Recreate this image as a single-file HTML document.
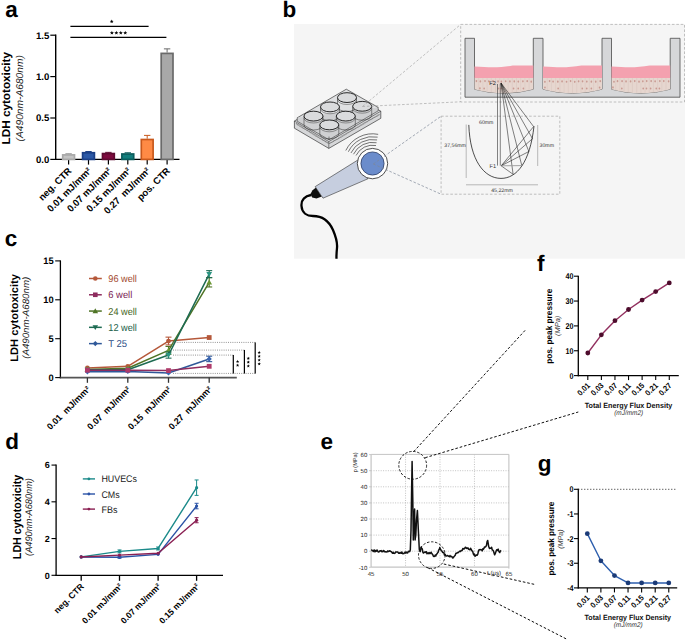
<!DOCTYPE html>
<html><head><meta charset="utf-8"><title>Figure</title>
<style>html,body{margin:0;padding:0;background:#fff;overflow:hidden;}svg{display:block;}text{font-family:'Liberation Sans', sans-serif;text-rendering:geometricPrecision;}</style></head>
<body><svg width="685" height="641" viewBox="0 0 685 641">
<rect width="685" height="641" fill="#fff"/>
<text x="5.2" y="17.3" font-size="22.5" font-weight="bold" font-style="normal" text-anchor="start" fill="#000">a</text>
<line x1="55.7" y1="34.6" x2="55.7" y2="160" stroke="#000" stroke-width="1.4" stroke-linecap="butt"/>
<line x1="55" y1="159.4" x2="179.5" y2="159.4" stroke="#000" stroke-width="1.4" stroke-linecap="butt"/>
<line x1="50.3" y1="159.4" x2="55.7" y2="159.4" stroke="#000" stroke-width="1.2" stroke-linecap="butt"/>
<text x="49.3" y="162.8" font-size="9.6" font-weight="bold" font-style="normal" text-anchor="end" fill="#000">0.0</text>
<line x1="50.3" y1="118" x2="55.7" y2="118" stroke="#000" stroke-width="1.2" stroke-linecap="butt"/>
<text x="49.3" y="121.4" font-size="9.6" font-weight="bold" font-style="normal" text-anchor="end" fill="#000">0.5</text>
<line x1="50.3" y1="76.6" x2="55.7" y2="76.6" stroke="#000" stroke-width="1.2" stroke-linecap="butt"/>
<text x="49.3" y="80" font-size="9.6" font-weight="bold" font-style="normal" text-anchor="end" fill="#000">1.0</text>
<line x1="50.3" y1="35.2" x2="55.7" y2="35.2" stroke="#000" stroke-width="1.2" stroke-linecap="butt"/>
<text x="49.3" y="38.6" font-size="9.6" font-weight="bold" font-style="normal" text-anchor="end" fill="#000">1.5</text>
<line x1="68.6" y1="159.4" x2="68.6" y2="164.6" stroke="#000" stroke-width="1.2" stroke-linecap="butt"/>
<line x1="88.5" y1="159.4" x2="88.5" y2="164.6" stroke="#000" stroke-width="1.2" stroke-linecap="butt"/>
<line x1="108.4" y1="159.4" x2="108.4" y2="164.6" stroke="#000" stroke-width="1.2" stroke-linecap="butt"/>
<line x1="127.8" y1="159.4" x2="127.8" y2="164.6" stroke="#000" stroke-width="1.2" stroke-linecap="butt"/>
<line x1="147.2" y1="159.4" x2="147.2" y2="164.6" stroke="#000" stroke-width="1.2" stroke-linecap="butt"/>
<line x1="167.1" y1="159.4" x2="167.1" y2="164.6" stroke="#000" stroke-width="1.2" stroke-linecap="butt"/>
<line x1="68.6" y1="154.1" x2="68.6" y2="153.6" stroke="#a8a8a8" stroke-width="1" stroke-linecap="butt"/>
<line x1="65.4" y1="153.6" x2="71.8" y2="153.6" stroke="#a8a8a8" stroke-width="1" stroke-linecap="butt"/>
<rect x="62.7" y="154.9" width="11.8" height="4.5" fill="#c4c4c4" stroke="#a8a8a8" stroke-width="1.7"/>
<line x1="88.5" y1="151.95" x2="88.5" y2="151.53" stroke="#1b3f86" stroke-width="1" stroke-linecap="butt"/>
<line x1="85.3" y1="151.53" x2="91.7" y2="151.53" stroke="#1b3f86" stroke-width="1" stroke-linecap="butt"/>
<rect x="82.6" y="152.75" width="11.8" height="6.65" fill="#2b58a6" stroke="#1b3f86" stroke-width="1.7"/>
<line x1="108.4" y1="152.78" x2="108.4" y2="152.36" stroke="#5e0a30" stroke-width="1" stroke-linecap="butt"/>
<line x1="105.2" y1="152.36" x2="111.6" y2="152.36" stroke="#5e0a30" stroke-width="1" stroke-linecap="butt"/>
<rect x="102.5" y="153.58" width="11.8" height="5.82" fill="#7d0a3e" stroke="#5e0a30" stroke-width="1.7"/>
<line x1="127.8" y1="153.19" x2="127.8" y2="152.78" stroke="#0b5c5c" stroke-width="1" stroke-linecap="butt"/>
<line x1="124.6" y1="152.78" x2="131" y2="152.78" stroke="#0b5c5c" stroke-width="1" stroke-linecap="butt"/>
<rect x="121.9" y="153.99" width="11.8" height="5.41" fill="#127e7c" stroke="#0b5c5c" stroke-width="1.7"/>
<line x1="147.2" y1="138.7" x2="147.2" y2="135.39" stroke="#c8581c" stroke-width="1" stroke-linecap="butt"/>
<line x1="144" y1="135.39" x2="150.4" y2="135.39" stroke="#c8581c" stroke-width="1" stroke-linecap="butt"/>
<rect x="141.3" y="139.5" width="11.8" height="19.9" fill="#ff8a45" stroke="#c8581c" stroke-width="1.7"/>
<line x1="167.1" y1="52.59" x2="167.1" y2="48.86" stroke="#6a6a6a" stroke-width="1" stroke-linecap="butt"/>
<line x1="163.9" y1="48.86" x2="170.3" y2="48.86" stroke="#6a6a6a" stroke-width="1" stroke-linecap="butt"/>
<rect x="161.2" y="53.39" width="11.8" height="106.01" fill="#a8a8a8" stroke="#6a6a6a" stroke-width="1.7"/>
<line x1="70.4" y1="26.3" x2="148.6" y2="26.3" stroke="#000" stroke-width="1.2" stroke-linecap="butt"/>
<line x1="70.4" y1="37.3" x2="166.4" y2="37.3" stroke="#000" stroke-width="1.2" stroke-linecap="butt"/>
<polygon points="111.7,19.5 112.23,20.77 113.6,20.88 112.56,21.78 112.88,23.12 111.7,22.4 110.52,23.12 110.84,21.78 109.8,20.88 111.17,20.77" fill="#000"/>
<polygon points="111.9,30.8 112.46,32.14 113.9,32.25 112.8,33.19 113.13,34.6 111.9,33.84 110.67,34.6 111,33.19 109.9,32.25 111.34,32.14" fill="#000"/>
<polygon points="116.35,30.8 116.91,32.14 118.35,32.25 117.25,33.19 117.58,34.6 116.35,33.84 115.12,34.6 115.45,33.19 114.35,32.25 115.79,32.14" fill="#000"/>
<polygon points="120.8,30.8 121.36,32.14 122.8,32.25 121.7,33.19 122.03,34.6 120.8,33.84 119.57,34.6 119.9,33.19 118.8,32.25 120.24,32.14" fill="#000"/>
<polygon points="125.25,30.8 125.81,32.14 127.25,32.25 126.15,33.19 126.48,34.6 125.25,33.84 124.02,34.6 124.35,33.19 123.25,32.25 124.69,32.14" fill="#000"/>
<text x="10.2" y="98.2" font-size="11.5" font-weight="bold" font-style="normal" text-anchor="middle" fill="#000" transform="rotate(-90 10.2 98.2)" textLength="92.5" lengthAdjust="spacingAndGlyphs">LDH cytotoxicity</text>
<text x="22.6" y="98.3" font-size="9.9" font-weight="normal" font-style="italic" text-anchor="middle" fill="#222" transform="rotate(-90 22.6 98.3)" textLength="86.3" lengthAdjust="spacingAndGlyphs">(A490nm-A680nm)</text>
<text x="72.2" y="171.5" font-size="9.6" font-weight="bold" font-style="normal" text-anchor="end" fill="#000" transform="rotate(-45 72.2 171.5)">neg. CTR</text>
<text x="92.1" y="171.5" font-size="9.6" font-weight="bold" font-style="normal" text-anchor="end" fill="#000" transform="rotate(-45 92.1 171.5)">0.01 mJ/mm²</text>
<text x="112" y="171.5" font-size="9.6" font-weight="bold" font-style="normal" text-anchor="end" fill="#000" transform="rotate(-45 112 171.5)">0.07 mJ/mm²</text>
<text x="131.4" y="171.5" font-size="9.6" font-weight="bold" font-style="normal" text-anchor="end" fill="#000" transform="rotate(-45 131.4 171.5)">0.15 mJ/mm²</text>
<text x="150.8" y="171.5" font-size="9.6" font-weight="bold" font-style="normal" text-anchor="end" fill="#000" transform="rotate(-45 150.8 171.5)">0.27&#160; mJ/mm²</text>
<text x="170.7" y="171.5" font-size="9.6" font-weight="bold" font-style="normal" text-anchor="end" fill="#000" transform="rotate(-45 170.7 171.5)">pos. CTR</text>
<rect x="294" y="24" width="391" height="234.7" fill="#f5f5f5" stroke="none" stroke-width="1"/>
<rect x="460.7" y="24.4" width="223.8" height="77.6" fill="none" stroke="#a0a0a0" stroke-width="0.65" stroke-dasharray="2.6,1.8"/>
<rect x="441.1" y="116.2" width="118.7" height="78" fill="none" stroke="#a0a0a0" stroke-width="0.65" stroke-dasharray="2.6,1.8"/>
<path d="M465,38.3 L474.5,38.3 L474.5,89.2 Q503.9,97.2 533.3,89.2 L533.3,38.3 L543,38.3 L543,89.2 Q572.5,97.2 602,89.2 L602,38.3 L611.5,38.3 L611.5,89.2 Q640.85,97.2 670.2,89.2 L670.2,38.3 L680,38.3 L680,97.2 L465,97.2 Z" fill="#d6d7d9" stroke="#4a4a4a" stroke-width="0.8" />
<path d="M474.5,77.8 L474.5,89.2 Q503.9,97.2 533.3,89.2 L533.3,77.8 Z" fill="#e6d6cf" stroke="none" stroke-width="1" />
<line x1="478.7" y1="78" x2="478.7" y2="89.96" stroke="#d6c3bc" stroke-width="0.45" stroke-linecap="butt"/>
<line x1="482.9" y1="78" x2="482.9" y2="90.86" stroke="#d6c3bc" stroke-width="0.45" stroke-linecap="butt"/>
<line x1="487.1" y1="78" x2="487.1" y2="91.59" stroke="#d6c3bc" stroke-width="0.45" stroke-linecap="butt"/>
<line x1="491.3" y1="78" x2="491.3" y2="92.17" stroke="#d6c3bc" stroke-width="0.45" stroke-linecap="butt"/>
<line x1="495.5" y1="78" x2="495.5" y2="92.57" stroke="#d6c3bc" stroke-width="0.45" stroke-linecap="butt"/>
<line x1="499.7" y1="78" x2="499.7" y2="92.82" stroke="#d6c3bc" stroke-width="0.45" stroke-linecap="butt"/>
<line x1="503.9" y1="78" x2="503.9" y2="92.9" stroke="#d6c3bc" stroke-width="0.45" stroke-linecap="butt"/>
<line x1="508.1" y1="78" x2="508.1" y2="92.82" stroke="#d6c3bc" stroke-width="0.45" stroke-linecap="butt"/>
<line x1="512.3" y1="78" x2="512.3" y2="92.57" stroke="#d6c3bc" stroke-width="0.45" stroke-linecap="butt"/>
<line x1="516.5" y1="78" x2="516.5" y2="92.17" stroke="#d6c3bc" stroke-width="0.45" stroke-linecap="butt"/>
<line x1="520.7" y1="78" x2="520.7" y2="91.59" stroke="#d6c3bc" stroke-width="0.45" stroke-linecap="butt"/>
<line x1="524.9" y1="78" x2="524.9" y2="90.86" stroke="#d6c3bc" stroke-width="0.45" stroke-linecap="butt"/>
<line x1="529.1" y1="78" x2="529.1" y2="89.96" stroke="#d6c3bc" stroke-width="0.45" stroke-linecap="butt"/>
<ellipse cx="476.42" cy="81.12" rx="0.85" ry="1.1" fill="#c99a92"/>
<ellipse cx="480.37" cy="81.43" rx="0.85" ry="1.1" fill="#c99a92"/>
<ellipse cx="479.92" cy="88.34" rx="0.85" ry="1.1" fill="#c99a92"/>
<ellipse cx="485.01" cy="81.03" rx="0.85" ry="1.1" fill="#c99a92"/>
<ellipse cx="484.14" cy="88.5" rx="0.85" ry="1.1" fill="#c99a92"/>
<ellipse cx="488.79" cy="81.34" rx="0.85" ry="1.1" fill="#c99a92"/>
<ellipse cx="493.02" cy="81.18" rx="0.85" ry="1.1" fill="#c99a92"/>
<ellipse cx="498.05" cy="81.46" rx="0.85" ry="1.1" fill="#c99a92"/>
<ellipse cx="498.55" cy="88.5" rx="0.85" ry="1.1" fill="#c99a92"/>
<ellipse cx="501.35" cy="81.69" rx="0.85" ry="1.1" fill="#c99a92"/>
<ellipse cx="501.09" cy="88.5" rx="0.85" ry="1.1" fill="#c99a92"/>
<ellipse cx="505.62" cy="81.25" rx="0.85" ry="1.1" fill="#c99a92"/>
<ellipse cx="509.88" cy="81.47" rx="0.85" ry="1.1" fill="#c99a92"/>
<ellipse cx="514.27" cy="81.44" rx="0.85" ry="1.1" fill="#c99a92"/>
<ellipse cx="513.52" cy="88.5" rx="0.85" ry="1.1" fill="#c99a92"/>
<ellipse cx="518.31" cy="81.54" rx="0.85" ry="1.1" fill="#c99a92"/>
<ellipse cx="518.23" cy="88.5" rx="0.85" ry="1.1" fill="#c99a92"/>
<ellipse cx="522.89" cy="81.36" rx="0.85" ry="1.1" fill="#c99a92"/>
<ellipse cx="523.39" cy="88.5" rx="0.85" ry="1.1" fill="#c99a92"/>
<ellipse cx="527.2" cy="81.2" rx="0.85" ry="1.1" fill="#c99a92"/>
<ellipse cx="531.23" cy="81.7" rx="0.85" ry="1.1" fill="#c99a92"/>
<path d="M474.5,78 L474.5,66.6 C492.14,67.8 500.96,67.6 512.72,65.6 C521.54,65.2 527.42,65.6 533.3,65.6 L533.3,78 Z" fill="#f4a1af" stroke="none" stroke-width="1" />
<path d="M543,77.8 L543,89.2 Q572.5,97.2 602,89.2 L602,77.8 Z" fill="#e6d6cf" stroke="none" stroke-width="1" />
<line x1="547.21" y1="78" x2="547.21" y2="89.96" stroke="#d6c3bc" stroke-width="0.45" stroke-linecap="butt"/>
<line x1="551.43" y1="78" x2="551.43" y2="90.86" stroke="#d6c3bc" stroke-width="0.45" stroke-linecap="butt"/>
<line x1="555.64" y1="78" x2="555.64" y2="91.59" stroke="#d6c3bc" stroke-width="0.45" stroke-linecap="butt"/>
<line x1="559.86" y1="78" x2="559.86" y2="92.17" stroke="#d6c3bc" stroke-width="0.45" stroke-linecap="butt"/>
<line x1="564.07" y1="78" x2="564.07" y2="92.57" stroke="#d6c3bc" stroke-width="0.45" stroke-linecap="butt"/>
<line x1="568.29" y1="78" x2="568.29" y2="92.82" stroke="#d6c3bc" stroke-width="0.45" stroke-linecap="butt"/>
<line x1="572.5" y1="78" x2="572.5" y2="92.9" stroke="#d6c3bc" stroke-width="0.45" stroke-linecap="butt"/>
<line x1="576.71" y1="78" x2="576.71" y2="92.82" stroke="#d6c3bc" stroke-width="0.45" stroke-linecap="butt"/>
<line x1="580.93" y1="78" x2="580.93" y2="92.57" stroke="#d6c3bc" stroke-width="0.45" stroke-linecap="butt"/>
<line x1="585.14" y1="78" x2="585.14" y2="92.17" stroke="#d6c3bc" stroke-width="0.45" stroke-linecap="butt"/>
<line x1="589.36" y1="78" x2="589.36" y2="91.59" stroke="#d6c3bc" stroke-width="0.45" stroke-linecap="butt"/>
<line x1="593.57" y1="78" x2="593.57" y2="90.86" stroke="#d6c3bc" stroke-width="0.45" stroke-linecap="butt"/>
<line x1="597.79" y1="78" x2="597.79" y2="89.96" stroke="#d6c3bc" stroke-width="0.45" stroke-linecap="butt"/>
<ellipse cx="544.9" cy="81.78" rx="0.85" ry="1.1" fill="#c99a92"/>
<ellipse cx="544.94" cy="87.51" rx="0.85" ry="1.1" fill="#c99a92"/>
<ellipse cx="549.58" cy="81.12" rx="0.85" ry="1.1" fill="#c99a92"/>
<ellipse cx="553.07" cy="81.53" rx="0.85" ry="1.1" fill="#c99a92"/>
<ellipse cx="557.82" cy="81.7" rx="0.85" ry="1.1" fill="#c99a92"/>
<ellipse cx="558.14" cy="88.5" rx="0.85" ry="1.1" fill="#c99a92"/>
<ellipse cx="562.06" cy="81.46" rx="0.85" ry="1.1" fill="#c99a92"/>
<ellipse cx="566.52" cy="81.76" rx="0.85" ry="1.1" fill="#c99a92"/>
<ellipse cx="570.56" cy="81.05" rx="0.85" ry="1.1" fill="#c99a92"/>
<ellipse cx="574.75" cy="81.79" rx="0.85" ry="1.1" fill="#c99a92"/>
<ellipse cx="578.61" cy="81.31" rx="0.85" ry="1.1" fill="#c99a92"/>
<ellipse cx="582.56" cy="81.37" rx="0.85" ry="1.1" fill="#c99a92"/>
<ellipse cx="582.27" cy="88.5" rx="0.85" ry="1.1" fill="#c99a92"/>
<ellipse cx="586.81" cy="81.61" rx="0.85" ry="1.1" fill="#c99a92"/>
<ellipse cx="586.75" cy="88.5" rx="0.85" ry="1.1" fill="#c99a92"/>
<ellipse cx="591.36" cy="81.7" rx="0.85" ry="1.1" fill="#c99a92"/>
<ellipse cx="591.36" cy="88.5" rx="0.85" ry="1.1" fill="#c99a92"/>
<ellipse cx="595.73" cy="81.71" rx="0.85" ry="1.1" fill="#c99a92"/>
<ellipse cx="600.26" cy="81.22" rx="0.85" ry="1.1" fill="#c99a92"/>
<ellipse cx="599.61" cy="87.62" rx="0.85" ry="1.1" fill="#c99a92"/>
<path d="M543,78 L543,66.6 C560.7,67.8 569.55,67.6 581.35,65.6 C590.2,65.2 596.1,65.6 602,65.6 L602,78 Z" fill="#f4a1af" stroke="none" stroke-width="1" />
<path d="M611.5,77.8 L611.5,89.2 Q640.85,97.2 670.2,89.2 L670.2,77.8 Z" fill="#e6d6cf" stroke="none" stroke-width="1" />
<line x1="615.69" y1="78" x2="615.69" y2="89.96" stroke="#d6c3bc" stroke-width="0.45" stroke-linecap="butt"/>
<line x1="619.89" y1="78" x2="619.89" y2="90.86" stroke="#d6c3bc" stroke-width="0.45" stroke-linecap="butt"/>
<line x1="624.08" y1="78" x2="624.08" y2="91.59" stroke="#d6c3bc" stroke-width="0.45" stroke-linecap="butt"/>
<line x1="628.27" y1="78" x2="628.27" y2="92.17" stroke="#d6c3bc" stroke-width="0.45" stroke-linecap="butt"/>
<line x1="632.46" y1="78" x2="632.46" y2="92.57" stroke="#d6c3bc" stroke-width="0.45" stroke-linecap="butt"/>
<line x1="636.66" y1="78" x2="636.66" y2="92.82" stroke="#d6c3bc" stroke-width="0.45" stroke-linecap="butt"/>
<line x1="640.85" y1="78" x2="640.85" y2="92.9" stroke="#d6c3bc" stroke-width="0.45" stroke-linecap="butt"/>
<line x1="645.04" y1="78" x2="645.04" y2="92.82" stroke="#d6c3bc" stroke-width="0.45" stroke-linecap="butt"/>
<line x1="649.24" y1="78" x2="649.24" y2="92.57" stroke="#d6c3bc" stroke-width="0.45" stroke-linecap="butt"/>
<line x1="653.43" y1="78" x2="653.43" y2="92.17" stroke="#d6c3bc" stroke-width="0.45" stroke-linecap="butt"/>
<line x1="657.62" y1="78" x2="657.62" y2="91.59" stroke="#d6c3bc" stroke-width="0.45" stroke-linecap="butt"/>
<line x1="661.81" y1="78" x2="661.81" y2="90.86" stroke="#d6c3bc" stroke-width="0.45" stroke-linecap="butt"/>
<line x1="666.01" y1="78" x2="666.01" y2="89.96" stroke="#d6c3bc" stroke-width="0.45" stroke-linecap="butt"/>
<ellipse cx="613.98" cy="81.77" rx="0.85" ry="1.1" fill="#c99a92"/>
<ellipse cx="612.95" cy="87.39" rx="0.85" ry="1.1" fill="#c99a92"/>
<ellipse cx="617.52" cy="81.19" rx="0.85" ry="1.1" fill="#c99a92"/>
<ellipse cx="622.07" cy="81.21" rx="0.85" ry="1.1" fill="#c99a92"/>
<ellipse cx="621.82" cy="88.5" rx="0.85" ry="1.1" fill="#c99a92"/>
<ellipse cx="626.04" cy="81.45" rx="0.85" ry="1.1" fill="#c99a92"/>
<ellipse cx="630.56" cy="81.41" rx="0.85" ry="1.1" fill="#c99a92"/>
<ellipse cx="634.74" cy="81.04" rx="0.85" ry="1.1" fill="#c99a92"/>
<ellipse cx="639.03" cy="81.7" rx="0.85" ry="1.1" fill="#c99a92"/>
<ellipse cx="642.84" cy="81.32" rx="0.85" ry="1.1" fill="#c99a92"/>
<ellipse cx="643.22" cy="88.5" rx="0.85" ry="1.1" fill="#c99a92"/>
<ellipse cx="646.7" cy="81.05" rx="0.85" ry="1.1" fill="#c99a92"/>
<ellipse cx="646.46" cy="88.5" rx="0.85" ry="1.1" fill="#c99a92"/>
<ellipse cx="651.17" cy="81.04" rx="0.85" ry="1.1" fill="#c99a92"/>
<ellipse cx="650.63" cy="88.5" rx="0.85" ry="1.1" fill="#c99a92"/>
<ellipse cx="655.13" cy="81.29" rx="0.85" ry="1.1" fill="#c99a92"/>
<ellipse cx="656.27" cy="88.5" rx="0.85" ry="1.1" fill="#c99a92"/>
<ellipse cx="659.83" cy="81.12" rx="0.85" ry="1.1" fill="#c99a92"/>
<ellipse cx="659.41" cy="88.5" rx="0.85" ry="1.1" fill="#c99a92"/>
<ellipse cx="663.77" cy="81.1" rx="0.85" ry="1.1" fill="#c99a92"/>
<ellipse cx="668.6" cy="81.37" rx="0.85" ry="1.1" fill="#c99a92"/>
<path d="M611.5,78 L611.5,66.6 C629.11,67.8 637.915,67.6 649.655,65.6 C658.46,65.2 664.33,65.6 670.2,65.6 L670.2,78 Z" fill="#f4a1af" stroke="none" stroke-width="1" />
<path d="M294.4,121 L346.3,91.5 L380.8,111.2 L380.8,118.3 L328.8,148.4 L294.4,128.2 Z" fill="#d6d7d9" stroke="#1c1c1c" stroke-width="0.6" />
<path d="M294.4,121 L328.8,141.6 L380.8,111.2" fill="none" stroke="#1c1c1c" stroke-width="0.5" />
<line x1="328.8" y1="141.6" x2="328.8" y2="148.4" stroke="#1c1c1c" stroke-width="0.5" stroke-linecap="butt"/>
<path d="M297.2,117.8 L346.3,89.2 L378.2,107.4 L329,136.6 Z" fill="#dfe0e2" stroke="#1c1c1c" stroke-width="0.6" />
<path d="M297.2,117.8 L297.2,121.2 L329,139.8 L378.2,110.8 L378.2,107.4" fill="#cfd0d2" stroke="#1c1c1c" stroke-width="0.5" />
<line x1="329" y1="136.6" x2="329" y2="139.8" stroke="#1c1c1c" stroke-width="0.5" stroke-linecap="butt"/>
<line x1="296" y1="123.6" x2="328.8" y2="143.6" stroke="#3a3a3a" stroke-width="1.2" stroke-dasharray="0.5,0.6"/>
<line x1="329.5" y1="143.6" x2="379.5" y2="114.4" stroke="#3a3a3a" stroke-width="1.2" stroke-dasharray="0.5,0.6"/>
<path d="M337.5,97.6 L337.5,106.6 A9.5,4.9 0 0 0 356.5,106.6 L356.5,97.6" fill="none" stroke="#333" stroke-width="0.55" />
<path d="M337.5,99.6 A9.5,4.9 0 0 0 356.5,99.6" fill="none" stroke="#444" stroke-width="0.5" />
<ellipse cx="347" cy="97.6" rx="9.5" ry="4.9" fill="#dadbdd" stroke="#151515" stroke-width="0.9"/>
<path d="M352.7,106.3 L352.7,115.3 A9.5,4.9 0 0 0 371.7,115.3 L371.7,106.3" fill="none" stroke="#333" stroke-width="0.55" />
<path d="M352.7,108.3 A9.5,4.9 0 0 0 371.7,108.3" fill="none" stroke="#444" stroke-width="0.5" />
<ellipse cx="362.2" cy="106.3" rx="9.5" ry="4.9" fill="#dadbdd" stroke="#151515" stroke-width="0.9"/>
<path d="M320.5,106.9 L320.5,115.9 A9.5,4.9 0 0 0 339.5,115.9 L339.5,106.9" fill="none" stroke="#333" stroke-width="0.55" />
<path d="M320.5,108.9 A9.5,4.9 0 0 0 339.5,108.9" fill="none" stroke="#444" stroke-width="0.5" />
<ellipse cx="330" cy="106.9" rx="9.5" ry="4.9" fill="#dadbdd" stroke="#151515" stroke-width="0.9"/>
<path d="M336.3,116.1 L336.3,125.1 A9.5,4.9 0 0 0 355.3,125.1 L355.3,116.1" fill="none" stroke="#333" stroke-width="0.55" />
<path d="M336.3,118.1 A9.5,4.9 0 0 0 355.3,118.1" fill="none" stroke="#444" stroke-width="0.5" />
<ellipse cx="345.8" cy="116.1" rx="9.5" ry="4.9" fill="#dadbdd" stroke="#151515" stroke-width="0.9"/>
<path d="M304.0,116.1 L304.0,125.1 A9.5,4.9 0 0 0 323.0,125.1 L323.0,116.1" fill="none" stroke="#333" stroke-width="0.55" />
<path d="M304.0,118.1 A9.5,4.9 0 0 0 323.0,118.1" fill="none" stroke="#444" stroke-width="0.5" />
<ellipse cx="313.5" cy="116.1" rx="9.5" ry="4.9" fill="#dadbdd" stroke="#151515" stroke-width="0.9"/>
<path d="M319.8,124.9 L319.8,133.9 A9.5,4.9 0 0 0 338.8,133.9 L338.8,124.9" fill="none" stroke="#333" stroke-width="0.55" />
<path d="M319.8,126.9 A9.5,4.9 0 0 0 338.8,126.9" fill="none" stroke="#444" stroke-width="0.5" />
<ellipse cx="329.3" cy="124.9" rx="9.5" ry="4.9" fill="#dadbdd" stroke="#151515" stroke-width="0.9"/>
<line x1="362.5" y1="106.5" x2="460.7" y2="24.4" stroke="#a0a0a0" stroke-width="0.65" stroke-linecap="butt" stroke-dasharray="2.6,1.8"/>
<line x1="362.5" y1="106.5" x2="460.7" y2="101.8" stroke="#a0a0a0" stroke-width="0.65" stroke-linecap="butt" stroke-dasharray="2.6,1.8"/>
<path d="M311,195 C305,196 301,200 301.5,206 C302,213 307,216 313,216 C322,216 329,221 333,230 C336,237 337.5,243 337,248 C336.6,252 336.3,255 336.5,258.7" fill="none" stroke="#000" stroke-width="2.3" />
<path d="M316,187.6 L321.8,196.4 L316.5,198.4 L312.2,197.6 L310.4,194.2 L312.3,190.4 Z" fill="#0e0e0e" stroke="none" stroke-width="1" />
<path d="M315.2,186.6 L357.7,160.1 L367.9,178.8 L323,198.2 Z" fill="#c6cedf" stroke="#333" stroke-width="0.6" />
<circle cx="372.5" cy="163.6" r="15.2" fill="#ffffff" stroke="#222" stroke-width="0.8"/>
<circle cx="372.5" cy="163.5" r="11.6" fill="#6b8ccb" stroke="#1f2f55" stroke-width="0.7"/>
<line x1="373.3" y1="164" x2="441.1" y2="116.2" stroke="#7d8797" stroke-width="0.7" stroke-linecap="butt" stroke-dasharray="2.6,1.8"/>
<line x1="373.3" y1="164" x2="441.1" y2="194.2" stroke="#7d8797" stroke-width="0.7" stroke-linecap="butt" stroke-dasharray="2.6,1.8"/>
<path d="M356.05,155.48 A18.3,18.3 0 0 1 375.99,145.54" fill="none" stroke="#2a2a2a" stroke-width="0.65" />
<path d="M353.49,154.23 A21.150000000000002,21.150000000000002 0 0 1 376.54,142.74" fill="none" stroke="#2a2a2a" stroke-width="0.65" />
<path d="M350.93,152.98 A24.0,24.0 0 0 1 377.08,139.94" fill="none" stroke="#2a2a2a" stroke-width="0.65" />
<path d="M348.37,151.73 A26.85,26.85 0 0 1 377.62,137.14" fill="none" stroke="#2a2a2a" stroke-width="0.65" />
<path d="M345.81,150.48 A29.700000000000003,29.700000000000003 0 0 1 378.17,134.35" fill="none" stroke="#2a2a2a" stroke-width="0.65" />
<path d="M468.8,124.9 C470,160 484,178.4 501,178.4 C517,178.4 530,162 534,126.2" fill="none" stroke="#222" stroke-width="0.8" />
<line x1="497.5" y1="84" x2="497.5" y2="165.6" stroke="#333" stroke-width="0.6" stroke-linecap="butt"/>
<line x1="500.3" y1="84" x2="500.3" y2="165.6" stroke="#333" stroke-width="0.6" stroke-linecap="butt"/>
<line x1="501.2" y1="165.8" x2="533.6" y2="126.6" stroke="#1a1a1a" stroke-width="0.55" stroke-linecap="butt"/>
<line x1="501.2" y1="165.8" x2="532.5" y2="138.7" stroke="#1a1a1a" stroke-width="0.55" stroke-linecap="butt"/>
<line x1="501.2" y1="165.8" x2="528.9" y2="151.5" stroke="#1a1a1a" stroke-width="0.55" stroke-linecap="butt"/>
<line x1="501.2" y1="165.8" x2="513.1" y2="174.3" stroke="#1a1a1a" stroke-width="0.55" stroke-linecap="butt"/>
<line x1="533.6" y1="126.6" x2="501" y2="83" stroke="#1a1a1a" stroke-width="0.55" stroke-linecap="butt"/>
<line x1="532.5" y1="138.7" x2="501" y2="83" stroke="#1a1a1a" stroke-width="0.55" stroke-linecap="butt"/>
<line x1="528.9" y1="151.5" x2="501" y2="83" stroke="#1a1a1a" stroke-width="0.55" stroke-linecap="butt"/>
<line x1="513.1" y1="174.3" x2="501" y2="83" stroke="#1a1a1a" stroke-width="0.55" stroke-linecap="butt"/>
<line x1="521.8" y1="165.6" x2="501" y2="83" stroke="#1a1a1a" stroke-width="0.55" stroke-linecap="butt"/>
<line x1="501.2" y1="165.8" x2="521.8" y2="165.6" stroke="#999" stroke-width="0.9" stroke-linecap="butt"/>
<line x1="466.2" y1="124.5" x2="466.2" y2="178" stroke="#7a7a7a" stroke-width="0.5" stroke-linecap="butt"/>
<line x1="537.7" y1="125" x2="537.7" y2="166" stroke="#7a7a7a" stroke-width="0.5" stroke-linecap="butt"/>
<line x1="466" y1="184.8" x2="538" y2="184.8" stroke="#7a7a7a" stroke-width="0.5" stroke-linecap="butt"/>
<text x="444.3" y="146.5" font-size="5.2" font-weight="normal" font-style="normal" text-anchor="start" fill="#333">37,56mm</text>
<text x="539.6" y="146.5" font-size="5.2" font-weight="normal" font-style="normal" text-anchor="start" fill="#333">30mm</text>
<text x="502" y="191.8" font-size="5.2" font-weight="normal" font-style="normal" text-anchor="middle" fill="#333">45,22mm</text>
<text x="479" y="124.3" font-size="5.2" font-weight="normal" font-style="normal" text-anchor="start" fill="#333">60mm</text>
<text x="489.5" y="168" font-size="5.6" font-weight="normal" font-style="normal" text-anchor="start" fill="#333">F1</text>
<text x="489.3" y="85.2" font-size="5.6" font-weight="normal" font-style="normal" text-anchor="start" fill="#222">F2</text>
<text x="282.5" y="17" font-size="22.5" font-weight="bold" font-style="normal" text-anchor="start" fill="#000">b</text>
<text x="4.7" y="245.8" font-size="22.5" font-weight="bold" font-style="normal" text-anchor="start" fill="#000">c</text>
<line x1="60.4" y1="260.4" x2="60.4" y2="378.2" stroke="#000" stroke-width="1.3" stroke-linecap="butt"/>
<line x1="59.8" y1="377.6" x2="236.8" y2="377.6" stroke="#555" stroke-width="1.6" stroke-linecap="butt"/>
<line x1="55.2" y1="377.6" x2="60.4" y2="377.6" stroke="#000" stroke-width="1.1" stroke-linecap="butt"/>
<text x="53.7" y="380.9" font-size="9.3" font-weight="bold" font-style="normal" text-anchor="end" fill="#000">0</text>
<line x1="55.2" y1="338.7" x2="60.4" y2="338.7" stroke="#000" stroke-width="1.1" stroke-linecap="butt"/>
<text x="53.7" y="342" font-size="9.3" font-weight="bold" font-style="normal" text-anchor="end" fill="#000">5</text>
<line x1="55.2" y1="299.8" x2="60.4" y2="299.8" stroke="#000" stroke-width="1.1" stroke-linecap="butt"/>
<text x="53.7" y="303.1" font-size="9.3" font-weight="bold" font-style="normal" text-anchor="end" fill="#000">10</text>
<line x1="55.2" y1="260.9" x2="60.4" y2="260.9" stroke="#000" stroke-width="1.1" stroke-linecap="butt"/>
<text x="53.7" y="264.2" font-size="9.3" font-weight="bold" font-style="normal" text-anchor="end" fill="#000">15</text>
<line x1="87.4" y1="377.6" x2="87.4" y2="382.8" stroke="#333" stroke-width="1.3" stroke-linecap="butt"/>
<line x1="127.8" y1="377.6" x2="127.8" y2="382.8" stroke="#333" stroke-width="1.3" stroke-linecap="butt"/>
<line x1="168.5" y1="377.6" x2="168.5" y2="382.8" stroke="#333" stroke-width="1.3" stroke-linecap="butt"/>
<line x1="209.2" y1="377.6" x2="209.2" y2="382.8" stroke="#333" stroke-width="1.3" stroke-linecap="butt"/>
<text x="18" y="317.9" font-size="10.9" font-weight="bold" font-style="normal" text-anchor="middle" fill="#000" transform="rotate(-90 18 317.9)" textLength="87.6" lengthAdjust="spacingAndGlyphs">LDH cytotoxicity</text>
<text x="29.5" y="317.8" font-size="9.3" font-weight="normal" font-style="italic" text-anchor="middle" fill="#222" transform="rotate(-90 29.5 317.8)" textLength="82" lengthAdjust="spacingAndGlyphs">(A490nm-A680nm)</text>
<text x="90.8" y="390" font-size="9.0" font-weight="bold" font-style="normal" text-anchor="end" fill="#000" transform="rotate(-45 90.8 390)">0.01&#160; mJ/mm²</text>
<text x="131.2" y="390" font-size="9.0" font-weight="bold" font-style="normal" text-anchor="end" fill="#000" transform="rotate(-45 131.2 390)">0.07&#160; mJ/mm²</text>
<text x="171.9" y="390" font-size="9.0" font-weight="bold" font-style="normal" text-anchor="end" fill="#000" transform="rotate(-45 171.9 390)">0.15&#160; mJ/mm²</text>
<text x="212.6" y="390" font-size="9.0" font-weight="bold" font-style="normal" text-anchor="end" fill="#000" transform="rotate(-45 212.6 390)">0.27&#160; mJ/mm²</text>
<polyline points="87.4,367.88 127.8,366.32 168.5,341.03 209.2,337.53" fill="none" stroke="#b5583a" stroke-width="1.5" stroke-linejoin="round"/>
<circle cx="87.4" cy="367.88" r="2.4" fill="#b5583a" stroke="none" stroke-width="1"/>
<circle cx="127.8" cy="366.32" r="2.4" fill="#b5583a" stroke="none" stroke-width="1"/>
<line x1="168.5" y1="337.14" x2="168.5" y2="344.92" stroke="#b5583a" stroke-width="1.1" stroke-linecap="butt"/>
<line x1="165.5" y1="337.14" x2="171.5" y2="337.14" stroke="#b5583a" stroke-width="1.1" stroke-linecap="butt"/>
<line x1="165.5" y1="344.92" x2="171.5" y2="344.92" stroke="#b5583a" stroke-width="1.1" stroke-linecap="butt"/>
<circle cx="168.5" cy="341.03" r="2.4" fill="#b5583a" stroke="none" stroke-width="1"/>
<rect x="206.8" y="335.13" width="4.8" height="4.8" fill="#b5583a" stroke="none" stroke-width="1"/>
<polyline points="87.4,369.43 127.8,368.26 168.5,350.37 209.2,282.3" fill="none" stroke="#4f7426" stroke-width="1.5" stroke-linejoin="round"/>
<polygon points="87.4,366.55 90.28,371.59 84.52,371.59" fill="#6a9632"/>
<polygon points="127.8,365.38 130.68,370.42 124.92,370.42" fill="#6a9632"/>
<line x1="168.5" y1="346.48" x2="168.5" y2="354.26" stroke="#4f7426" stroke-width="1.1" stroke-linecap="butt"/>
<line x1="165.5" y1="346.48" x2="171.5" y2="346.48" stroke="#4f7426" stroke-width="1.1" stroke-linecap="butt"/>
<line x1="165.5" y1="354.26" x2="171.5" y2="354.26" stroke="#4f7426" stroke-width="1.1" stroke-linecap="butt"/>
<polygon points="168.5,347.49 171.38,352.53 165.62,352.53" fill="#6a9632"/>
<line x1="209.2" y1="277.63" x2="209.2" y2="286.96" stroke="#4f7426" stroke-width="1.1" stroke-linecap="butt"/>
<line x1="206.2" y1="277.63" x2="212.2" y2="277.63" stroke="#4f7426" stroke-width="1.1" stroke-linecap="butt"/>
<line x1="206.2" y1="286.96" x2="212.2" y2="286.96" stroke="#4f7426" stroke-width="1.1" stroke-linecap="butt"/>
<polygon points="209.2,279.42 212.08,284.46 206.32,284.46" fill="#6a9632"/>
<polyline points="87.4,369.82 127.8,369.82 168.5,355.04 209.2,274.13" fill="none" stroke="#1d6b52" stroke-width="1.5" stroke-linejoin="round"/>
<polygon points="87.4,372.7 90.28,367.66 84.52,367.66" fill="#2a9482"/>
<polygon points="127.8,372.7 130.68,367.66 124.92,367.66" fill="#2a9482"/>
<line x1="168.5" y1="351.93" x2="168.5" y2="358.15" stroke="#1d6b52" stroke-width="1.1" stroke-linecap="butt"/>
<line x1="165.5" y1="351.93" x2="171.5" y2="351.93" stroke="#1d6b52" stroke-width="1.1" stroke-linecap="butt"/>
<line x1="165.5" y1="358.15" x2="171.5" y2="358.15" stroke="#1d6b52" stroke-width="1.1" stroke-linecap="butt"/>
<polygon points="168.5,357.92 171.38,352.88 165.62,352.88" fill="#2a9482"/>
<line x1="209.2" y1="270.63" x2="209.2" y2="277.63" stroke="#1d6b52" stroke-width="1.1" stroke-linecap="butt"/>
<line x1="206.2" y1="270.63" x2="212.2" y2="270.63" stroke="#1d6b52" stroke-width="1.1" stroke-linecap="butt"/>
<line x1="206.2" y1="277.63" x2="212.2" y2="277.63" stroke="#1d6b52" stroke-width="1.1" stroke-linecap="butt"/>
<polygon points="209.2,277.01 212.08,271.97 206.32,271.97" fill="#2a9482"/>
<polyline points="87.4,371.77 127.8,371.38 168.5,372.93 209.2,358.93" fill="none" stroke="#2f5899" stroke-width="1.5" stroke-linejoin="round"/>
<polygon points="87.4,369.13 90.04,371.77 87.4,374.41 84.76,371.77" fill="#3a66b2"/>
<polygon points="127.8,368.74 130.44,371.38 127.8,374.02 125.16,371.38" fill="#3a66b2"/>
<polygon points="168.5,370.29 171.14,372.93 168.5,375.57 165.86,372.93" fill="#3a66b2"/>
<line x1="209.2" y1="356.2" x2="209.2" y2="361.65" stroke="#2f5899" stroke-width="1.1" stroke-linecap="butt"/>
<line x1="206.2" y1="356.2" x2="212.2" y2="356.2" stroke="#2f5899" stroke-width="1.1" stroke-linecap="butt"/>
<line x1="206.2" y1="361.65" x2="212.2" y2="361.65" stroke="#2f5899" stroke-width="1.1" stroke-linecap="butt"/>
<polygon points="209.2,356.29 211.84,358.93 209.2,361.57 206.56,358.93" fill="#3a66b2"/>
<polyline points="87.4,370.21 127.8,370.21 168.5,370.6 209.2,366.32" fill="none" stroke="#8e2c5e" stroke-width="1.5" stroke-linejoin="round"/>
<rect x="85" y="367.81" width="4.8" height="4.8" fill="#ae3a6a" stroke="none" stroke-width="1"/>
<rect x="125.4" y="367.81" width="4.8" height="4.8" fill="#ae3a6a" stroke="none" stroke-width="1"/>
<rect x="166.1" y="368.2" width="4.8" height="4.8" fill="#ae3a6a" stroke="none" stroke-width="1"/>
<rect x="206.8" y="363.92" width="4.8" height="4.8" fill="#ae3a6a" stroke="none" stroke-width="1"/>
<line x1="89" y1="278.5" x2="101.8" y2="278.5" stroke="#b5583a" stroke-width="1.5" stroke-linecap="butt"/>
<circle cx="95.3" cy="278.5" r="2.3" fill="#b5583a" stroke="none" stroke-width="1"/>
<text x="108.3" y="282.1" font-size="10" font-weight="normal" font-style="normal" text-anchor="start" fill="#a24a2e" textLength="28.6" lengthAdjust="spacingAndGlyphs">96 well</text>
<line x1="89" y1="294.78" x2="101.8" y2="294.78" stroke="#8e2c5e" stroke-width="1.5" stroke-linecap="butt"/>
<rect x="93" y="292.48" width="4.6" height="4.6" fill="#8e2c5e" stroke="none" stroke-width="1"/>
<text x="108.3" y="298.38" font-size="10" font-weight="normal" font-style="normal" text-anchor="start" fill="#7a2150" textLength="24" lengthAdjust="spacingAndGlyphs">6 well</text>
<line x1="89" y1="311.06" x2="101.8" y2="311.06" stroke="#4f7426" stroke-width="1.5" stroke-linecap="butt"/>
<polygon points="95.3,308.3 98.06,313.13 92.54,313.13" fill="#4f7426"/>
<text x="108.3" y="314.66" font-size="10" font-weight="normal" font-style="normal" text-anchor="start" fill="#46661e" textLength="28.6" lengthAdjust="spacingAndGlyphs">24 well</text>
<line x1="89" y1="327.34" x2="101.8" y2="327.34" stroke="#1d6b52" stroke-width="1.5" stroke-linecap="butt"/>
<polygon points="95.3,330.1 98.06,325.27 92.54,325.27" fill="#1d6b52"/>
<text x="108.3" y="330.94" font-size="10" font-weight="normal" font-style="normal" text-anchor="start" fill="#1a5e48" textLength="28.6" lengthAdjust="spacingAndGlyphs">12 well</text>
<line x1="89" y1="343.62" x2="101.8" y2="343.62" stroke="#2f5899" stroke-width="1.5" stroke-linecap="butt"/>
<polygon points="95.3,341.09 97.83,343.62 95.3,346.15 92.77,343.62" fill="#2f5899"/>
<text x="108.3" y="347.22" font-size="10" font-weight="normal" font-style="normal" text-anchor="start" fill="#2c4c86" textLength="18.8" lengthAdjust="spacingAndGlyphs">T 25</text>
<line x1="173" y1="342.4" x2="255.6" y2="342.4" stroke="#777" stroke-width="0.8" stroke-linecap="butt" stroke-dasharray="1,1.2"/>
<line x1="173" y1="350.1" x2="244.4" y2="350.1" stroke="#777" stroke-width="0.8" stroke-linecap="butt" stroke-dasharray="1,1.2"/>
<line x1="173" y1="355.1" x2="233.3" y2="355.1" stroke="#777" stroke-width="0.8" stroke-linecap="butt" stroke-dasharray="1,1.2"/>
<line x1="173" y1="373.4" x2="255.6" y2="373.4" stroke="#777" stroke-width="0.8" stroke-linecap="butt" stroke-dasharray="1,1.2"/>
<line x1="233.3" y1="355.1" x2="233.3" y2="373.4" stroke="#000" stroke-width="1.2" stroke-linecap="butt"/>
<line x1="244.4" y1="350.1" x2="244.4" y2="373.4" stroke="#000" stroke-width="1.2" stroke-linecap="butt"/>
<line x1="255.2" y1="342.4" x2="255.2" y2="373.4" stroke="#000" stroke-width="1.2" stroke-linecap="butt"/>
<polygon points="237.6,359.8 238.05,360.88 239.22,360.97 238.33,361.74 238.6,362.88 237.6,362.26 236.6,362.88 236.87,361.74 235.98,360.97 237.15,360.88" fill="#000"/>
<polygon points="237.6,363.6 238.05,364.68 239.22,364.77 238.33,365.54 238.6,366.68 237.6,366.06 236.6,366.68 236.87,365.54 235.98,364.77 237.15,364.68" fill="#000"/>
<polygon points="248.3,356.7 248.75,357.78 249.92,357.87 249.03,358.64 249.3,359.78 248.3,359.16 247.3,359.78 247.57,358.64 246.68,357.87 247.85,357.78" fill="#000"/>
<polygon points="248.3,360.5 248.75,361.58 249.92,361.67 249.03,362.44 249.3,363.58 248.3,362.96 247.3,363.58 247.57,362.44 246.68,361.67 247.85,361.58" fill="#000"/>
<polygon points="248.3,364.3 248.75,365.38 249.92,365.47 249.03,366.24 249.3,367.38 248.3,366.76 247.3,367.38 247.57,366.24 246.68,365.47 247.85,365.38" fill="#000"/>
<polygon points="259.2,350.8 259.65,351.88 260.82,351.97 259.93,352.74 260.2,353.88 259.2,353.26 258.2,353.88 258.47,352.74 257.58,351.97 258.75,351.88" fill="#000"/>
<polygon points="259.2,354.6 259.65,355.68 260.82,355.77 259.93,356.54 260.2,357.68 259.2,357.06 258.2,357.68 258.47,356.54 257.58,355.77 258.75,355.68" fill="#000"/>
<polygon points="259.2,358.4 259.65,359.48 260.82,359.57 259.93,360.34 260.2,361.48 259.2,360.87 258.2,361.48 258.47,360.34 257.58,359.57 258.75,359.48" fill="#000"/>
<polygon points="259.2,362.2 259.65,363.28 260.82,363.37 259.93,364.14 260.2,365.28 259.2,364.66 258.2,365.28 258.47,364.14 257.58,363.37 258.75,363.28" fill="#000"/>
<text x="5.3" y="448.8" font-size="22.5" font-weight="bold" font-style="normal" text-anchor="start" fill="#000">d</text>
<line x1="56.1" y1="464.6" x2="56.1" y2="575.9" stroke="#000" stroke-width="1.3" stroke-linecap="butt"/>
<line x1="55.5" y1="575.3" x2="223" y2="575.3" stroke="#000" stroke-width="1.3" stroke-linecap="butt"/>
<line x1="51.5" y1="575.3" x2="56.1" y2="575.3" stroke="#000" stroke-width="1.1" stroke-linecap="butt"/>
<text x="49.7" y="578.5" font-size="9" font-weight="bold" font-style="normal" text-anchor="end" fill="#000">0</text>
<line x1="51.5" y1="538.56" x2="56.1" y2="538.56" stroke="#000" stroke-width="1.1" stroke-linecap="butt"/>
<text x="49.7" y="541.76" font-size="9" font-weight="bold" font-style="normal" text-anchor="end" fill="#000">2</text>
<line x1="51.5" y1="501.82" x2="56.1" y2="501.82" stroke="#000" stroke-width="1.1" stroke-linecap="butt"/>
<text x="49.7" y="505.02" font-size="9" font-weight="bold" font-style="normal" text-anchor="end" fill="#000">4</text>
<line x1="51.5" y1="465.08" x2="56.1" y2="465.08" stroke="#000" stroke-width="1.1" stroke-linecap="butt"/>
<text x="49.7" y="468.28" font-size="9" font-weight="bold" font-style="normal" text-anchor="end" fill="#000">6</text>
<line x1="81.2" y1="575.3" x2="81.2" y2="580.8" stroke="#000" stroke-width="1.3" stroke-linecap="butt"/>
<line x1="119.5" y1="575.3" x2="119.5" y2="580.8" stroke="#000" stroke-width="1.3" stroke-linecap="butt"/>
<line x1="158.1" y1="575.3" x2="158.1" y2="580.8" stroke="#000" stroke-width="1.3" stroke-linecap="butt"/>
<line x1="196.6" y1="575.3" x2="196.6" y2="580.8" stroke="#000" stroke-width="1.3" stroke-linecap="butt"/>
<text x="21.4" y="517" font-size="11.6" font-weight="bold" font-style="normal" text-anchor="middle" fill="#000" transform="rotate(-90 21.4 517)" textLength="84.3" lengthAdjust="spacingAndGlyphs">LDH cytotoxicity</text>
<text x="32.3" y="517" font-size="9.5" font-weight="normal" font-style="italic" text-anchor="middle" fill="#222" transform="rotate(-90 32.3 517)" textLength="77.8" lengthAdjust="spacingAndGlyphs">(A490nm-A680nm)</text>
<text x="84.5" y="587" font-size="8.7" font-weight="bold" font-style="normal" text-anchor="end" fill="#000" transform="rotate(-45 84.5 587)">neg. CTR</text>
<text x="122.8" y="587" font-size="8.7" font-weight="bold" font-style="normal" text-anchor="end" fill="#000" transform="rotate(-45 122.8 587)">0.01 mJ/mm²</text>
<text x="161.4" y="587" font-size="8.7" font-weight="bold" font-style="normal" text-anchor="end" fill="#000" transform="rotate(-45 161.4 587)">0.07 mJ/mm²</text>
<text x="199.9" y="587" font-size="8.7" font-weight="bold" font-style="normal" text-anchor="end" fill="#000" transform="rotate(-45 199.9 587)">0.15 mJ/mm²</text>
<polyline points="81.2,556.93 119.5,551.42 158.1,548.48 196.6,487.68" fill="none" stroke="#1b8a8a" stroke-width="1.4" stroke-linejoin="round"/>
<circle cx="81.2" cy="556.93" r="1.6" fill="#1b8a8a" stroke="none" stroke-width="1"/>
<line x1="119.5" y1="549.95" x2="119.5" y2="552.89" stroke="#1b8a8a" stroke-width="1" stroke-linecap="butt"/>
<line x1="117.5" y1="549.95" x2="121.5" y2="549.95" stroke="#1b8a8a" stroke-width="1" stroke-linecap="butt"/>
<line x1="117.5" y1="552.89" x2="121.5" y2="552.89" stroke="#1b8a8a" stroke-width="1" stroke-linecap="butt"/>
<circle cx="119.5" cy="551.42" r="1.6" fill="#1b8a8a" stroke="none" stroke-width="1"/>
<line x1="158.1" y1="547.01" x2="158.1" y2="549.95" stroke="#1b8a8a" stroke-width="1" stroke-linecap="butt"/>
<line x1="156.1" y1="547.01" x2="160.1" y2="547.01" stroke="#1b8a8a" stroke-width="1" stroke-linecap="butt"/>
<line x1="156.1" y1="549.95" x2="160.1" y2="549.95" stroke="#1b8a8a" stroke-width="1" stroke-linecap="butt"/>
<circle cx="158.1" cy="548.48" r="1.6" fill="#1b8a8a" stroke="none" stroke-width="1"/>
<line x1="196.6" y1="479.96" x2="196.6" y2="495.39" stroke="#1b8a8a" stroke-width="1" stroke-linecap="butt"/>
<line x1="194.6" y1="479.96" x2="198.6" y2="479.96" stroke="#1b8a8a" stroke-width="1" stroke-linecap="butt"/>
<line x1="194.6" y1="495.39" x2="198.6" y2="495.39" stroke="#1b8a8a" stroke-width="1" stroke-linecap="butt"/>
<circle cx="196.6" cy="487.68" r="1.6" fill="#1b8a8a" stroke="none" stroke-width="1"/>
<polyline points="81.2,556.93 119.5,557.3 158.1,554.36 196.6,506.05" fill="none" stroke="#2a52a6" stroke-width="1.4" stroke-linejoin="round"/>
<circle cx="81.2" cy="556.93" r="1.6" fill="#2a52a6" stroke="none" stroke-width="1"/>
<line x1="119.5" y1="556.38" x2="119.5" y2="558.22" stroke="#2a52a6" stroke-width="1" stroke-linecap="butt"/>
<line x1="117.5" y1="556.38" x2="121.5" y2="556.38" stroke="#2a52a6" stroke-width="1" stroke-linecap="butt"/>
<line x1="117.5" y1="558.22" x2="121.5" y2="558.22" stroke="#2a52a6" stroke-width="1" stroke-linecap="butt"/>
<circle cx="119.5" cy="557.3" r="1.6" fill="#2a52a6" stroke="none" stroke-width="1"/>
<circle cx="158.1" cy="554.36" r="1.6" fill="#2a52a6" stroke="none" stroke-width="1"/>
<line x1="196.6" y1="503.29" x2="196.6" y2="508.8" stroke="#2a52a6" stroke-width="1" stroke-linecap="butt"/>
<line x1="194.6" y1="503.29" x2="198.6" y2="503.29" stroke="#2a52a6" stroke-width="1" stroke-linecap="butt"/>
<line x1="194.6" y1="508.8" x2="198.6" y2="508.8" stroke="#2a52a6" stroke-width="1" stroke-linecap="butt"/>
<circle cx="196.6" cy="506.05" r="1.6" fill="#2a52a6" stroke="none" stroke-width="1"/>
<polyline points="81.2,556.93 119.5,555.09 158.1,553.26 196.6,520.19" fill="none" stroke="#8a1f52" stroke-width="1.4" stroke-linejoin="round"/>
<circle cx="81.2" cy="556.93" r="1.6" fill="#8a1f52" stroke="none" stroke-width="1"/>
<circle cx="119.5" cy="555.09" r="1.6" fill="#8a1f52" stroke="none" stroke-width="1"/>
<circle cx="158.1" cy="553.26" r="1.6" fill="#8a1f52" stroke="none" stroke-width="1"/>
<line x1="196.6" y1="517.62" x2="196.6" y2="522.76" stroke="#8a1f52" stroke-width="1" stroke-linecap="butt"/>
<line x1="194.6" y1="517.62" x2="198.6" y2="517.62" stroke="#8a1f52" stroke-width="1" stroke-linecap="butt"/>
<line x1="194.6" y1="522.76" x2="198.6" y2="522.76" stroke="#8a1f52" stroke-width="1" stroke-linecap="butt"/>
<circle cx="196.6" cy="520.19" r="1.6" fill="#8a1f52" stroke="none" stroke-width="1"/>
<line x1="82.8" y1="478.9" x2="95" y2="478.9" stroke="#1b8a8a" stroke-width="1.4" stroke-linecap="butt"/>
<circle cx="88.9" cy="478.9" r="1.4" fill="#1b8a8a" stroke="none" stroke-width="1"/>
<text x="101.4" y="482.4" font-size="9.6" font-weight="normal" font-style="normal" text-anchor="start" fill="#1a1a1a" textLength="35.6" lengthAdjust="spacingAndGlyphs">HUVECs</text>
<line x1="82.8" y1="494" x2="95" y2="494" stroke="#2a52a6" stroke-width="1.4" stroke-linecap="butt"/>
<circle cx="88.9" cy="494" r="1.4" fill="#2a52a6" stroke="none" stroke-width="1"/>
<text x="101.4" y="497.5" font-size="9.6" font-weight="normal" font-style="normal" text-anchor="start" fill="#1a1a1a" textLength="18.3" lengthAdjust="spacingAndGlyphs">CMs</text>
<line x1="82.8" y1="509.1" x2="95" y2="509.1" stroke="#8a1f52" stroke-width="1.4" stroke-linecap="butt"/>
<circle cx="88.9" cy="509.1" r="1.4" fill="#8a1f52" stroke="none" stroke-width="1"/>
<text x="101.4" y="512.6" font-size="9.6" font-weight="normal" font-style="normal" text-anchor="start" fill="#1a1a1a" textLength="16" lengthAdjust="spacingAndGlyphs">FBs</text>
<text x="320.6" y="448.7" font-size="22.5" font-weight="bold" font-style="normal" text-anchor="start" fill="#000">e</text>
<line x1="371.1" y1="470.7" x2="508.9" y2="470.7" stroke="#9a9a9a" stroke-width="0.6" stroke-linecap="butt" stroke-dasharray="1,1.4"/>
<line x1="371.1" y1="486.8" x2="508.9" y2="486.8" stroke="#9a9a9a" stroke-width="0.6" stroke-linecap="butt" stroke-dasharray="1,1.4"/>
<line x1="371.1" y1="502.9" x2="508.9" y2="502.9" stroke="#9a9a9a" stroke-width="0.6" stroke-linecap="butt" stroke-dasharray="1,1.4"/>
<line x1="371.1" y1="519" x2="508.9" y2="519" stroke="#9a9a9a" stroke-width="0.6" stroke-linecap="butt" stroke-dasharray="1,1.4"/>
<line x1="371.1" y1="535.1" x2="508.9" y2="535.1" stroke="#9a9a9a" stroke-width="0.6" stroke-linecap="butt" stroke-dasharray="1,1.4"/>
<line x1="371.1" y1="551.2" x2="508.9" y2="551.2" stroke="#9a9a9a" stroke-width="0.6" stroke-linecap="butt" stroke-dasharray="1,1.4"/>
<line x1="405.55" y1="454.4" x2="405.55" y2="567.1" stroke="#9a9a9a" stroke-width="0.6" stroke-linecap="butt" stroke-dasharray="1,1.4"/>
<line x1="440" y1="454.4" x2="440" y2="567.1" stroke="#9a9a9a" stroke-width="0.6" stroke-linecap="butt" stroke-dasharray="1,1.4"/>
<line x1="474.45" y1="454.4" x2="474.45" y2="567.1" stroke="#9a9a9a" stroke-width="0.6" stroke-linecap="butt" stroke-dasharray="1,1.4"/>
<line x1="508.9" y1="454.4" x2="508.9" y2="568.6" stroke="#bdbdbd" stroke-width="1" stroke-linecap="butt"/>
<line x1="371.1" y1="454.4" x2="508.9" y2="454.4" stroke="#c4c4c4" stroke-width="1" stroke-linecap="butt"/>
<line x1="371.1" y1="454.4" x2="371.1" y2="567.1" stroke="#c4c4c4" stroke-width="1.2" stroke-linecap="butt"/>
<line x1="371.1" y1="567.1" x2="508.9" y2="567.1" stroke="#c4c4c4" stroke-width="1.2" stroke-linecap="butt"/>
<line x1="369.1" y1="454.6" x2="371.1" y2="454.6" stroke="#bbb" stroke-width="0.8" stroke-linecap="butt"/>
<text x="367.3" y="456.8" font-size="6" font-weight="normal" font-style="normal" text-anchor="end" fill="#222">60</text>
<line x1="369.1" y1="470.7" x2="371.1" y2="470.7" stroke="#bbb" stroke-width="0.8" stroke-linecap="butt"/>
<text x="367.3" y="472.9" font-size="6" font-weight="normal" font-style="normal" text-anchor="end" fill="#222">50</text>
<line x1="369.1" y1="486.8" x2="371.1" y2="486.8" stroke="#bbb" stroke-width="0.8" stroke-linecap="butt"/>
<text x="367.3" y="489" font-size="6" font-weight="normal" font-style="normal" text-anchor="end" fill="#222">40</text>
<line x1="369.1" y1="502.9" x2="371.1" y2="502.9" stroke="#bbb" stroke-width="0.8" stroke-linecap="butt"/>
<text x="367.3" y="505.1" font-size="6" font-weight="normal" font-style="normal" text-anchor="end" fill="#222">30</text>
<line x1="369.1" y1="519" x2="371.1" y2="519" stroke="#bbb" stroke-width="0.8" stroke-linecap="butt"/>
<text x="367.3" y="521.2" font-size="6" font-weight="normal" font-style="normal" text-anchor="end" fill="#222">20</text>
<line x1="369.1" y1="535.1" x2="371.1" y2="535.1" stroke="#bbb" stroke-width="0.8" stroke-linecap="butt"/>
<text x="367.3" y="537.3" font-size="6" font-weight="normal" font-style="normal" text-anchor="end" fill="#222">10</text>
<line x1="369.1" y1="551.2" x2="371.1" y2="551.2" stroke="#bbb" stroke-width="0.8" stroke-linecap="butt"/>
<text x="367.3" y="553.4" font-size="6" font-weight="normal" font-style="normal" text-anchor="end" fill="#222">0</text>
<line x1="369.1" y1="567.3" x2="371.1" y2="567.3" stroke="#bbb" stroke-width="0.8" stroke-linecap="butt"/>
<text x="367.3" y="569.5" font-size="6" font-weight="normal" font-style="normal" text-anchor="end" fill="#222">-10</text>
<text x="371.1" y="576" font-size="6" font-weight="normal" font-style="normal" text-anchor="middle" fill="#222">45</text>
<text x="405.55" y="576" font-size="6" font-weight="normal" font-style="normal" text-anchor="middle" fill="#222">50</text>
<text x="440" y="576" font-size="6" font-weight="normal" font-style="normal" text-anchor="middle" fill="#222">55</text>
<text x="474.45" y="576" font-size="6" font-weight="normal" font-style="normal" text-anchor="middle" fill="#222">60</text>
<text x="508.9" y="576" font-size="6" font-weight="normal" font-style="normal" text-anchor="middle" fill="#222">65</text>
<text x="494" y="575.2" font-size="6" font-weight="normal" font-style="normal" text-anchor="middle" fill="#222">t (µs)</text>
<text x="357.3" y="462.4" font-size="5.6" font-weight="normal" font-style="normal" text-anchor="middle" fill="#222" transform="rotate(-90 357.3 462.4)">p (MPa)</text>
<polyline points="371.1,549.97 371.66,550.03 372.21,550.54 372.77,550.42 373.33,551.57 373.89,550.27 374.44,550.02 375,551.9 375.56,551.08 376.11,550.34 376.67,551.15 377.22,550.14 377.78,551.17 378.33,552.09 378.89,551.88 379.44,551.57 380,550.72 380.56,550.91 381.11,550.49 381.67,551.68 382.22,551.18 382.78,551.65 383.33,550.73 383.89,550.49 384.44,551.65 385,551.97 385.57,551.79 386.13,551.78 386.7,551.89 387.27,551.81 387.83,550.87 388.4,551.54 389,551.34 389.6,550.82 390.2,550.96 390.8,551.59 391.4,551.69 392,552.69 392.57,553.24 393.14,552.25 393.71,553.26 394.29,553.39 394.86,553.35 395.43,552.2 396,551.94 396.57,551.97 397.14,551.92 397.71,551.95 398.29,552.81 398.86,553.37 399.43,553.27 400,552.56 400.57,552.96 401.14,553.31 401.71,551.94 402.29,553.15 402.86,553.71 403.43,553.51 404,553.5 404.6,552.8 405.2,552.04 405.8,553.1 406.4,552.03 407,552.8 407.67,552.91 408.33,551.53 409,551.3 409.65,551.64 410.3,550 411,530.45 411.55,495.04 412.1,461.4 412.8,500 413.3,540 413.9,520 414.6,509 415.1,540 415.8,535 416.5,520 417.4,510.45 418.3,529.3 419.3,549.5 420.2,551.61 421.2,547 421.6,548.11 422.3,549.04 423,552.65 423.57,553.07 424.14,552.54 424.71,552.04 425.29,552.55 425.86,551.83 426.43,551.71 427,553.74 427.57,553.1 428.14,552.85 428.71,553.67 429.29,552.67 429.86,553.54 430.43,553.45 431,552.22 431.6,553.14 432.2,554.07 432.8,554.8 433.4,556.33 434,556.52 434.6,556.24 435.2,555.06 435.8,556.02 436.4,554.31 437,553.92 437.56,552.87 438.12,552.21 438.68,549.94 439.24,549.64 439.8,547.5 440.53,549.06 441.27,550.55 442,551.04 442.62,552.46 443.23,552.53 443.85,552.76 444.47,554.93 445.08,554.26 445.7,555.45 446.31,556.06 446.93,555.84 447.54,555.49 448.16,555.99 448.77,556.18 449.39,556.75 450,555.51 450.64,556.7 451.28,556.36 451.92,556.69 452.56,557.96 453.2,557.72 453.88,556.75 454.55,556.07 455.22,555.3 455.9,553.29 456.48,553.35 457.06,552.85 457.64,552.58 458.22,552.67 458.8,551.9 459.38,551.61 459.96,551.04 460.54,551.5 461.12,550.56 461.7,550.45 462.28,550.2 462.86,548.46 463.44,548.68 464.02,549.07 464.6,548.48 465.2,547.31 465.8,547.52 466.4,548.4 467,547.91 467.6,548.48 468.2,548.15 468.8,549.34 469.4,549.57 470,549.79 470.6,548.31 471.2,549.43 471.93,550.79 472.67,551.22 473.4,554.17 473.95,554.99 474.5,554.14 475.05,556.26 475.6,555.8 476.33,555.11 477.07,555.25 477.8,554.06 478.5,550.87 479.2,549.56 479.8,549.87 480.4,549.66 481,549.51 481.6,549.9 482.2,550.84 482.76,548.86 483.32,549.35 483.88,548.54 484.44,547.12 485,547.16 485.75,546.65 486.5,545.32 487.1,541.53 487.7,540.47 488.7,546.58 489.45,548.44 490.2,548.21 490.9,548.13 491.6,547.28 492.2,549.92 492.8,550.06 493.4,550.94 494,552.68 494.6,554.82 495.33,553.44 496.07,551.12 496.8,549.7 497.5,550.54 498.2,549.14 498.95,551.6 499.7,552.58 500.4,551.02 501.1,550.4" fill="none" stroke="#111" stroke-width="1.5" stroke-linejoin="round"/>
<circle cx="412.7" cy="465.3" r="13.9" fill="none" stroke="#111" stroke-width="0.95" stroke-dasharray="2.4,1.7"/>
<circle cx="431.8" cy="555.1" r="13.3" fill="none" stroke="#111" stroke-width="0.95" stroke-dasharray="2.4,1.7"/>
<line x1="413.7" y1="451.6" x2="525.7" y2="329.7" stroke="#111" stroke-width="1.0" stroke-linecap="butt" stroke-dasharray="2.6,1.9"/>
<line x1="425.2" y1="457.7" x2="578.3" y2="412" stroke="#111" stroke-width="1.0" stroke-linecap="butt" stroke-dasharray="2.6,1.9"/>
<line x1="443.8" y1="564" x2="535.8" y2="584.7" stroke="#111" stroke-width="1.0" stroke-linecap="butt" stroke-dasharray="2.6,1.9"/>
<line x1="427.7" y1="567.7" x2="567" y2="639.3" stroke="#111" stroke-width="1.0" stroke-linecap="butt" stroke-dasharray="2.6,1.9"/>
<text x="537" y="271.2" font-size="22.5" font-weight="bold" font-style="normal" text-anchor="start" fill="#000">f</text>
<line x1="578.3" y1="275.8" x2="578.3" y2="376.2" stroke="#000" stroke-width="1.3" stroke-linecap="butt"/>
<line x1="577.7" y1="375.6" x2="678.8" y2="375.6" stroke="#000" stroke-width="1.3" stroke-linecap="butt"/>
<line x1="574" y1="375.6" x2="578.3" y2="375.6" stroke="#000" stroke-width="1.1" stroke-linecap="butt"/>
<text x="573.6" y="378.6" font-size="8.4" font-weight="bold" font-style="normal" text-anchor="end" fill="#000" textLength="4.02" lengthAdjust="spacingAndGlyphs">0</text>
<line x1="574" y1="350.75" x2="578.3" y2="350.75" stroke="#000" stroke-width="1.1" stroke-linecap="butt"/>
<text x="573.6" y="353.75" font-size="8.4" font-weight="bold" font-style="normal" text-anchor="end" fill="#000" textLength="8.03" lengthAdjust="spacingAndGlyphs">10</text>
<line x1="574" y1="325.9" x2="578.3" y2="325.9" stroke="#000" stroke-width="1.1" stroke-linecap="butt"/>
<text x="573.6" y="328.9" font-size="8.4" font-weight="bold" font-style="normal" text-anchor="end" fill="#000" textLength="8.03" lengthAdjust="spacingAndGlyphs">20</text>
<line x1="574" y1="301.05" x2="578.3" y2="301.05" stroke="#000" stroke-width="1.1" stroke-linecap="butt"/>
<text x="573.6" y="304.05" font-size="8.4" font-weight="bold" font-style="normal" text-anchor="end" fill="#000" textLength="8.03" lengthAdjust="spacingAndGlyphs">30</text>
<line x1="574" y1="276.2" x2="578.3" y2="276.2" stroke="#000" stroke-width="1.1" stroke-linecap="butt"/>
<text x="573.6" y="279.2" font-size="8.4" font-weight="bold" font-style="normal" text-anchor="end" fill="#000" textLength="8.03" lengthAdjust="spacingAndGlyphs">40</text>
<line x1="587.8" y1="375.6" x2="587.8" y2="380.1" stroke="#000" stroke-width="1.1" stroke-linecap="butt"/>
<text x="590.7" y="386" font-size="8" font-weight="bold" font-style="normal" text-anchor="end" fill="#000" transform="rotate(-45 590.7 386)" textLength="14.48" lengthAdjust="spacingAndGlyphs">0.01</text>
<line x1="601.38" y1="375.6" x2="601.38" y2="380.1" stroke="#000" stroke-width="1.1" stroke-linecap="butt"/>
<text x="604.28" y="386" font-size="8" font-weight="bold" font-style="normal" text-anchor="end" fill="#000" transform="rotate(-45 604.28 386)" textLength="14.48" lengthAdjust="spacingAndGlyphs">0.03</text>
<line x1="614.96" y1="375.6" x2="614.96" y2="380.1" stroke="#000" stroke-width="1.1" stroke-linecap="butt"/>
<text x="617.86" y="386" font-size="8" font-weight="bold" font-style="normal" text-anchor="end" fill="#000" transform="rotate(-45 617.86 386)" textLength="14.48" lengthAdjust="spacingAndGlyphs">0.07</text>
<line x1="628.54" y1="375.6" x2="628.54" y2="380.1" stroke="#000" stroke-width="1.1" stroke-linecap="butt"/>
<text x="631.44" y="386" font-size="8" font-weight="bold" font-style="normal" text-anchor="end" fill="#000" transform="rotate(-45 631.44 386)" textLength="14.07" lengthAdjust="spacingAndGlyphs">0.11</text>
<line x1="642.12" y1="375.6" x2="642.12" y2="380.1" stroke="#000" stroke-width="1.1" stroke-linecap="butt"/>
<text x="645.02" y="386" font-size="8" font-weight="bold" font-style="normal" text-anchor="end" fill="#000" transform="rotate(-45 645.02 386)" textLength="14.48" lengthAdjust="spacingAndGlyphs">0.15</text>
<line x1="655.7" y1="375.6" x2="655.7" y2="380.1" stroke="#000" stroke-width="1.1" stroke-linecap="butt"/>
<text x="658.6" y="386" font-size="8" font-weight="bold" font-style="normal" text-anchor="end" fill="#000" transform="rotate(-45 658.6 386)" textLength="14.48" lengthAdjust="spacingAndGlyphs">0.21</text>
<line x1="669.28" y1="375.6" x2="669.28" y2="380.1" stroke="#000" stroke-width="1.1" stroke-linecap="butt"/>
<text x="672.18" y="386" font-size="8" font-weight="bold" font-style="normal" text-anchor="end" fill="#000" transform="rotate(-45 672.18 386)" textLength="14.48" lengthAdjust="spacingAndGlyphs">0.27</text>
<polyline points="587.8,352.99 601.38,334.85 614.96,320.68 628.54,309.5 642.12,300.06 655.7,291.61 669.28,282.91" fill="none" stroke="#92305f" stroke-width="1.4" stroke-linejoin="round"/>
<circle cx="587.8" cy="352.99" r="2.4" fill="#4d0c2c" stroke="none" stroke-width="1"/>
<circle cx="601.38" cy="334.85" r="2.4" fill="#4d0c2c" stroke="none" stroke-width="1"/>
<circle cx="614.96" cy="320.68" r="2.4" fill="#4d0c2c" stroke="none" stroke-width="1"/>
<circle cx="628.54" cy="309.5" r="2.4" fill="#4d0c2c" stroke="none" stroke-width="1"/>
<circle cx="642.12" cy="300.06" r="2.4" fill="#4d0c2c" stroke="none" stroke-width="1"/>
<circle cx="655.7" cy="291.61" r="2.4" fill="#4d0c2c" stroke="none" stroke-width="1"/>
<circle cx="669.28" cy="282.91" r="2.4" fill="#4d0c2c" stroke="none" stroke-width="1"/>
<text x="551.6" y="326.2" font-size="8.6" font-weight="bold" font-style="normal" text-anchor="middle" fill="#000" transform="rotate(-90 551.6 326.2)" textLength="75.2" lengthAdjust="spacingAndGlyphs">pos. peak pressure</text>
<text x="560.3" y="325.8" font-size="7.2" font-weight="normal" font-style="italic" text-anchor="middle" fill="#333" transform="rotate(-90 560.3 325.8)" textLength="20.3" lengthAdjust="spacingAndGlyphs">(MPa)</text>
<text x="628.5" y="407.6" font-size="7.6" font-weight="bold" font-style="normal" text-anchor="middle" fill="#111" textLength="87.6" lengthAdjust="spacingAndGlyphs">Total Energy Flux Density</text>
<text x="628.7" y="415.2" font-size="6.8" font-weight="normal" font-style="italic" text-anchor="middle" fill="#333" textLength="29" lengthAdjust="spacingAndGlyphs">(mJ/mm2)</text>
<text x="537.7" y="471.2" font-size="22.5" font-weight="bold" font-style="normal" text-anchor="start" fill="#000">g</text>
<line x1="578.3" y1="488.8" x2="578.3" y2="588.5" stroke="#000" stroke-width="1.3" stroke-linecap="butt"/>
<line x1="577.7" y1="587.9" x2="677.2" y2="587.9" stroke="#000" stroke-width="1.3" stroke-linecap="butt"/>
<line x1="578.3" y1="489.3" x2="677.2" y2="489.3" stroke="#222" stroke-width="1" stroke-linecap="butt" stroke-dasharray="1,2"/>
<line x1="574" y1="489.3" x2="578.3" y2="489.3" stroke="#000" stroke-width="1.1" stroke-linecap="butt"/>
<text x="573.6" y="492.3" font-size="8.4" font-weight="bold" font-style="normal" text-anchor="end" fill="#000" textLength="4.02" lengthAdjust="spacingAndGlyphs">0</text>
<line x1="574" y1="513.95" x2="578.3" y2="513.95" stroke="#000" stroke-width="1.1" stroke-linecap="butt"/>
<text x="573.6" y="516.95" font-size="8.4" font-weight="bold" font-style="normal" text-anchor="end" fill="#000" textLength="6.42" lengthAdjust="spacingAndGlyphs">-1</text>
<line x1="574" y1="538.6" x2="578.3" y2="538.6" stroke="#000" stroke-width="1.1" stroke-linecap="butt"/>
<text x="573.6" y="541.6" font-size="8.4" font-weight="bold" font-style="normal" text-anchor="end" fill="#000" textLength="6.42" lengthAdjust="spacingAndGlyphs">-2</text>
<line x1="574" y1="563.25" x2="578.3" y2="563.25" stroke="#000" stroke-width="1.1" stroke-linecap="butt"/>
<text x="573.6" y="566.25" font-size="8.4" font-weight="bold" font-style="normal" text-anchor="end" fill="#000" textLength="6.42" lengthAdjust="spacingAndGlyphs">-3</text>
<line x1="574" y1="587.9" x2="578.3" y2="587.9" stroke="#000" stroke-width="1.1" stroke-linecap="butt"/>
<text x="573.6" y="590.9" font-size="8.4" font-weight="bold" font-style="normal" text-anchor="end" fill="#000" textLength="6.42" lengthAdjust="spacingAndGlyphs">-4</text>
<line x1="587.3" y1="587.9" x2="587.3" y2="592.4" stroke="#000" stroke-width="1.1" stroke-linecap="butt"/>
<text x="590.2" y="598.3" font-size="8" font-weight="bold" font-style="normal" text-anchor="end" fill="#000" transform="rotate(-45 590.2 598.3)" textLength="14.48" lengthAdjust="spacingAndGlyphs">0.01</text>
<line x1="600.88" y1="587.9" x2="600.88" y2="592.4" stroke="#000" stroke-width="1.1" stroke-linecap="butt"/>
<text x="603.78" y="598.3" font-size="8" font-weight="bold" font-style="normal" text-anchor="end" fill="#000" transform="rotate(-45 603.78 598.3)" textLength="14.48" lengthAdjust="spacingAndGlyphs">0.03</text>
<line x1="614.46" y1="587.9" x2="614.46" y2="592.4" stroke="#000" stroke-width="1.1" stroke-linecap="butt"/>
<text x="617.36" y="598.3" font-size="8" font-weight="bold" font-style="normal" text-anchor="end" fill="#000" transform="rotate(-45 617.36 598.3)" textLength="14.48" lengthAdjust="spacingAndGlyphs">0.07</text>
<line x1="628.04" y1="587.9" x2="628.04" y2="592.4" stroke="#000" stroke-width="1.1" stroke-linecap="butt"/>
<text x="630.94" y="598.3" font-size="8" font-weight="bold" font-style="normal" text-anchor="end" fill="#000" transform="rotate(-45 630.94 598.3)" textLength="14.07" lengthAdjust="spacingAndGlyphs">0.11</text>
<line x1="641.62" y1="587.9" x2="641.62" y2="592.4" stroke="#000" stroke-width="1.1" stroke-linecap="butt"/>
<text x="644.52" y="598.3" font-size="8" font-weight="bold" font-style="normal" text-anchor="end" fill="#000" transform="rotate(-45 644.52 598.3)" textLength="14.48" lengthAdjust="spacingAndGlyphs">0.15</text>
<line x1="655.2" y1="587.9" x2="655.2" y2="592.4" stroke="#000" stroke-width="1.1" stroke-linecap="butt"/>
<text x="658.1" y="598.3" font-size="8" font-weight="bold" font-style="normal" text-anchor="end" fill="#000" transform="rotate(-45 658.1 598.3)" textLength="14.48" lengthAdjust="spacingAndGlyphs">0.21</text>
<line x1="668.78" y1="587.9" x2="668.78" y2="592.4" stroke="#000" stroke-width="1.1" stroke-linecap="butt"/>
<text x="671.68" y="598.3" font-size="8" font-weight="bold" font-style="normal" text-anchor="end" fill="#000" transform="rotate(-45 671.68 598.3)" textLength="14.48" lengthAdjust="spacingAndGlyphs">0.27</text>
<polyline points="587.3,533.67 600.88,560.78 614.46,575.58 628.04,582.97 641.62,582.97 655.2,582.97 668.78,582.97" fill="none" stroke="#2e5fae" stroke-width="1.4" stroke-linejoin="round"/>
<circle cx="587.3" cy="533.67" r="2.4" fill="#1b3b78" stroke="none" stroke-width="1"/>
<circle cx="600.88" cy="560.78" r="2.4" fill="#1b3b78" stroke="none" stroke-width="1"/>
<circle cx="614.46" cy="575.58" r="2.4" fill="#1b3b78" stroke="none" stroke-width="1"/>
<circle cx="628.04" cy="582.97" r="2.4" fill="#1b3b78" stroke="none" stroke-width="1"/>
<circle cx="641.62" cy="582.97" r="2.4" fill="#1b3b78" stroke="none" stroke-width="1"/>
<circle cx="655.2" cy="582.97" r="2.4" fill="#1b3b78" stroke="none" stroke-width="1"/>
<circle cx="668.78" cy="582.97" r="2.4" fill="#1b3b78" stroke="none" stroke-width="1"/>
<text x="554.1" y="538.6" font-size="8.6" font-weight="bold" font-style="normal" text-anchor="middle" fill="#000" transform="rotate(-90 554.1 538.6)" textLength="74" lengthAdjust="spacingAndGlyphs">pos. peak pressure</text>
<text x="562.7" y="539.1" font-size="7.2" font-weight="normal" font-style="italic" text-anchor="middle" fill="#333" transform="rotate(-90 562.7 539.1)" textLength="19.3" lengthAdjust="spacingAndGlyphs">(MPa)</text>
<text x="627.8" y="619.6" font-size="7.6" font-weight="bold" font-style="normal" text-anchor="middle" fill="#111" textLength="86.5" lengthAdjust="spacingAndGlyphs">Total Energy Flux Density</text>
<text x="628.2" y="627.2" font-size="6.8" font-weight="normal" font-style="italic" text-anchor="middle" fill="#333" textLength="29" lengthAdjust="spacingAndGlyphs">(mJ/mm2)</text>
</svg></body></html>
